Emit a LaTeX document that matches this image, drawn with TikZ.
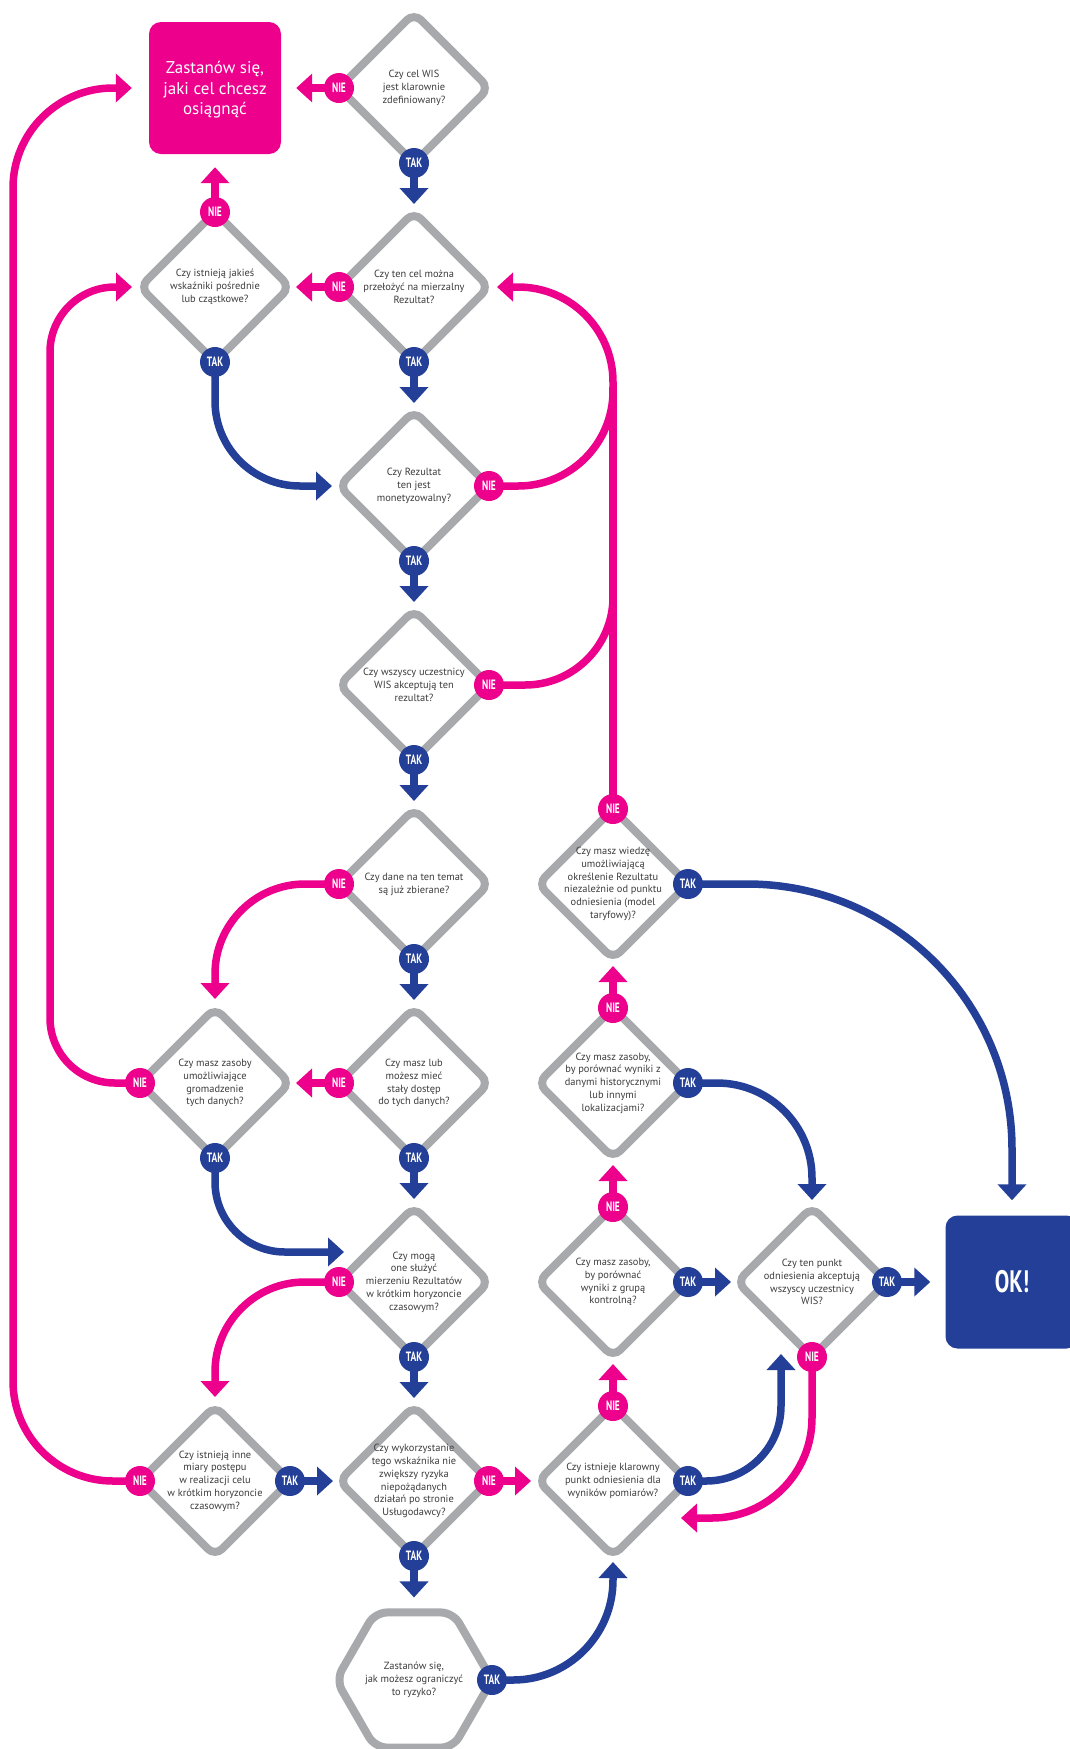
\documentclass[tikz,border=0pt]{standalone}
\usepackage{fontspec}
\setmainfont{PT Sans}
\newfontfamily\labfont{PT Sans}[FakeStretch=0.7]
\usetikzlibrary{arrows.meta,shapes.geometric,calc}

\definecolor{wispink}{HTML}{EC008C}
\definecolor{wisblue}{HTML}{233F97}
\definecolor{wisgray}{HTML}{A7A9AC}
\definecolor{wistext}{HTML}{3C3C3E}

\pgfdeclarelayer{paper}
\pgfdeclarelayer{links}
\pgfsetlayers{paper,links,main}

\tikzset{
  qbox/.style={shape=diamond, aspect=1, draw=wisgray, line width=8pt,
    minimum width=150pt, minimum height=150pt, inner sep=0pt, outer sep=0pt,
    rounded corners=10pt},
  hexbox/.style={regular polygon, regular polygon sides=6, draw=wisgray,
    line width=8pt, minimum size=156pt, inner sep=0pt, outer sep=0pt,
    rounded corners=12pt},
  qtext/.style={align=center, text=wistext, inner sep=0pt,
    font=\fontsize{10.4}{12.8}\selectfont},
  nie/.style={circle, fill=wispink, text=white, minimum size=30pt,
    inner sep=0pt, font=\labfont\bfseries\fontsize{13.5}{14}\selectfont},
  tak/.style={nie, fill=wisblue},
  goalbox/.style={rectangle, fill=wispink, rounded corners=12pt,
    minimum width=132pt, minimum height=132pt, inner sep=0pt},
  goaltext/.style={align=center, text=white, inner sep=0pt,
    font=\fontsize{17}{20.5}\selectfont},
  okbox/.style={rectangle, fill=wisblue, text=white, rounded corners=12pt,
    minimum width=133pt, minimum height=133pt, inner sep=0pt,
    font=\labfont\bfseries\fontsize{31}{34}\selectfont},
  link/.style={line width=7.5pt},
  parr/.style={link, draw=wispink, -{Triangle[width=28pt,length=16pt]}},
  barr/.style={link, draw=wisblue, -{Triangle[width=28pt,length=16pt]}},
  pline/.style={link, draw=wispink},
}

\begin{document}
\begin{tikzpicture}[x=1pt, y=1pt]
\begin{pgfonlayer}{paper}
  \fill[white] (0,0) rectangle (1069,-1749);
\end{pgfonlayer}
\useasboundingbox (0,0) rectangle (1069,-1749);

% decision shapes
\node[qbox] (d1)  at (414,-88)   {};
\node[qbox] (d2a) at (215,-287)  {};
\node[qbox] (d2)  at (414,-287)  {};
\node[qbox] (d3)  at (414,-486)  {};
\node[qbox] (d4)  at (414,-685)  {};
\node[qbox] (d5)  at (414,-884)  {};
\node[qbox] (d5b) at (613,-884)  {};
\node[qbox] (d6a) at (215,-1083) {};
\node[qbox] (d6)  at (414,-1083) {};
\node[qbox] (d6b) at (613,-1083) {};
\node[qbox] (d7)  at (414,-1282) {};
\node[qbox] (d7b) at (613,-1282) {};
\node[qbox] (d7c) at (812,-1282) {};
\node[qbox] (d8a) at (215,-1481) {};
\node[qbox] (d8)  at (414,-1481) {};
\node[qbox] (d8b) at (613,-1481) {};
\node[hexbox] (hex) at (414,-1680) {};

% terminal boxes
\node[goalbox] (goal) at (215,-88) {};
\node[goaltext] (goalq) at (215,-90) {Zastanów się,\\jaki cel chcesz\\osiągnąć};
\node[okbox] (ok) at (1012,-1282) {OK!};

% questions
\node[qtext] (d1q)  at (d1)  {Czy cel WIS\\jest klarownie\\zdefiniowany?};
\node[qtext] (d2aq) at (d2a) {Czy istnieją jakieś\\wskaźniki pośrednie\\lub cząstkowe?};
\node[qtext] (d2q)  at (d2)  {Czy ten cel można\\przełożyć na mierzalny\\Rezultat?};
\node[qtext] (d3q)  at (d3)  {Czy Rezultat\\ten jest\\monetyzowalny?};
\node[qtext] (d4q)  at (d4)  {Czy wszyscy uczestnicy\\WIS akceptują ten\\rezultat?};
\node[qtext] (d5q)  at (d5)  {Czy dane na ten temat\\są już zbierane?};
\node[qtext] (d5bq) at (d5b) {Czy masz wiedzę\\umożliwiającą\\określenie Rezultatu\\niezależnie od punktu\\odniesienia (model\\taryfowy)?};
\node[qtext] (d6aq) at (d6a) {Czy masz zasoby\\umożliwiające\\gromadzenie\\tych danych?};
\node[qtext] (d6q)  at (d6)  {Czy masz lub\\możesz mieć\\stały dostęp\\do tych danych?};
\node[qtext] (d6bq) at (d6b) {Czy masz zasoby,\\by porównać wyniki z\\danymi historycznymi\\lub innymi\\lokalizacjami?};
\node[qtext] (d7q)  at (d7)  {Czy mogą\\one służyć\\mierzeniu Rezultatów\\w krótkim horyzoncie\\czasowym?};
\node[qtext] (d7bq) at (d7b) {Czy masz zasoby,\\by porównać\\wyniki z grupą\\kontrolną?};
\node[qtext] (d7cq) at (d7c) {Czy ten punkt\\odniesienia akceptują\\wszyscy uczestnicy\\WIS?};
\node[qtext] (d8aq) at (d8a) {Czy istnieją inne\\miary postępu\\w realizacji celu\\w krótkim horyzoncie\\czasowym?};
\node[qtext] (d8q)  at (d8)  {Czy wykorzystanie\\tego wskaźnika nie\\zwiększy ryzyka\\niepożądanych\\działań po stronie\\Usługodawcy?};
\node[qtext] (d8bq) at (d8b) {Czy istnieje klarowny\\punkt odniesienia dla\\wyników pomiarów?};
\node[qtext] (hexq) at (hex) {Zastanów się,\\jak możesz ograniczyć\\to ryzyko?};

% answer badges
\node[nie] (d1n)  at (d1.west)   {NIE};
\node[tak] (d1t)  at (d1.south)  {TAK};
\node[nie] (d2an) at (d2a.north) {NIE};
\node[tak] (d2at) at (d2a.south) {TAK};
\node[nie] (d2n)  at (d2.west)   {NIE};
\node[tak] (d2t)  at (d2.south)  {TAK};
\node[nie] (d3n)  at (d3.east)   {NIE};
\node[tak] (d3t)  at (d3.south)  {TAK};
\node[nie] (d4n)  at (d4.east)   {NIE};
\node[tak] (d4t)  at (d4.south)  {TAK};
\node[nie] (d5n)  at (d5.west)   {NIE};
\node[tak] (d5t)  at (d5.south)  {TAK};
\node[nie] (d5bn) at (d5b.north) {NIE};
\node[tak] (d5bt) at (d5b.east)  {TAK};
\node[nie] (d6an) at (d6a.west)  {NIE};
\node[tak] (d6at) at (d6a.south) {TAK};
\node[nie] (d6n)  at (d6.west)   {NIE};
\node[tak] (d6t)  at (d6.south)  {TAK};
\node[nie] (d6bn) at (d6b.north) {NIE};
\node[tak] (d6bt) at (d6b.east)  {TAK};
\node[nie] (d7n)  at (d7.west)   {NIE};
\node[tak] (d7t)  at (d7.south)  {TAK};
\node[nie] (d7bn) at (d7b.north) {NIE};
\node[tak] (d7bt) at (d7b.east)  {TAK};
\node[tak] (d7ct) at (d7c.east)  {TAK};
\node[nie] (d7cn) at (d7c.south) {NIE};
\node[nie] (d8an) at (d8a.west)  {NIE};
\node[tak] (d8at) at (d8a.east)  {TAK};
\node[nie] (d8n)  at (d8.east)   {NIE};
\node[tak] (d8t)  at (d8.south)  {TAK};
\node[nie] (d8bn) at (d8b.north) {NIE};
\node[tak] (d8bt) at (d8b.east)  {TAK};
\node[tak] (hext) at (hex.east)  {TAK};

% bend points of the long connectors
\coordinate (c1) at (613,-287);
\coordinate (c2) at (613,-387);
\coordinate (c4) at (50,-287);
\coordinate (c5) at (13,-88);
\coordinate (d7nw)  at ($(d7)+(-70,30)$);
\coordinate (d8bse) at ($(d8b)+(68,-37)$);
\coordinate (d7csw) at ($(d7c)+(-31,-72)$);

\begin{pgfonlayer}{links}
\draw[parr, shorten >=15pt] (d1n.center) -- (goal.east);
\draw[barr, shorten >=8pt] (d1t.center) -- (d2.north);
\draw[parr, shorten >=13pt] (d2an.center) -- (goal.south);
\draw[parr, shorten >=6pt] (d2n.center) -- (d2a.east);
\draw[barr, shorten >=8pt] (d2t.center) -- (d3.north);
\draw[barr, rounded corners=85pt, shorten >=7pt] (d2at.center) |- (d3.west);
\draw[parr, rounded corners=95pt, shorten >=8pt] (d3n.center) -| (c1) -- (d2.east);
\draw[barr, shorten >=8pt] (d3t.center) -- (d4.north);
\draw[pline, rounded corners=88pt] (d4n.center) -| (c2);
\draw[pline] (d5bn.center) -- (c2);
\draw[barr, shorten >=8pt] (d4t.center) -- (d5.north);
\draw[parr, rounded corners=90pt, shorten >=9pt] (d5n.center) -| (d6a.north);
\draw[barr, shorten >=8pt] (d5t.center) -- (d6.north);
\draw[barr, rounded corners=265pt, shorten >=15pt] (d5bt.center) -| (ok.north);
\draw[parr, rounded corners=65pt, shorten >=8pt] (d6an.center) -| (c4) -- (d2a.west);
\draw[barr, rounded corners=70pt] (d6at.center) |- (d7nw);
\draw[parr, shorten >=6pt] (d6n.center) -- (d6a.east);
\draw[barr, shorten >=8pt] (d6t.center) -- (d7.north);
\draw[parr, shorten >=7pt] (d6bn.center) -- (d5b.south);
\draw[barr, rounded corners=95pt, shorten >=7pt] (d6bt.center) -| (d7c.north);
\draw[parr, rounded corners=90pt, shorten >=9pt] (d7n.center) -| (d8a.north);
\draw[barr, shorten >=8pt] (d7t.center) -- (d8.north);
\draw[parr, shorten >=7pt] (d7bn.center) -- (d6b.south);
\draw[barr, shorten >=6pt] (d7bt.center) -- (d7c.west);
\draw[barr, shorten >=15pt] (d7ct.center) -- (ok.west);
\draw[parr, rounded corners=100pt] (d7cn.center) |- (d8bse);
\draw[parr, rounded corners=100pt, shorten >=17pt] (d8an.center) -| (c5) -- (goal.west);
\draw[barr, shorten >=6pt] (d8at.center) -- (d8.west);
\draw[parr, shorten >=7pt] (d8n.center) -- (d8b.west);
\draw[barr, shorten >=15pt] (d8t.center) -- (hex.north);
\draw[parr, shorten >=7pt] (d8bn.center) -- (d7b.south);
\draw[barr, rounded corners=75pt] (d8bt.center) -| (d7csw);
\draw[barr, rounded corners=100pt, shorten >=6pt] (hext.center) -| (d8b.south);
\end{pgfonlayer}
\end{tikzpicture}
\end{document}
